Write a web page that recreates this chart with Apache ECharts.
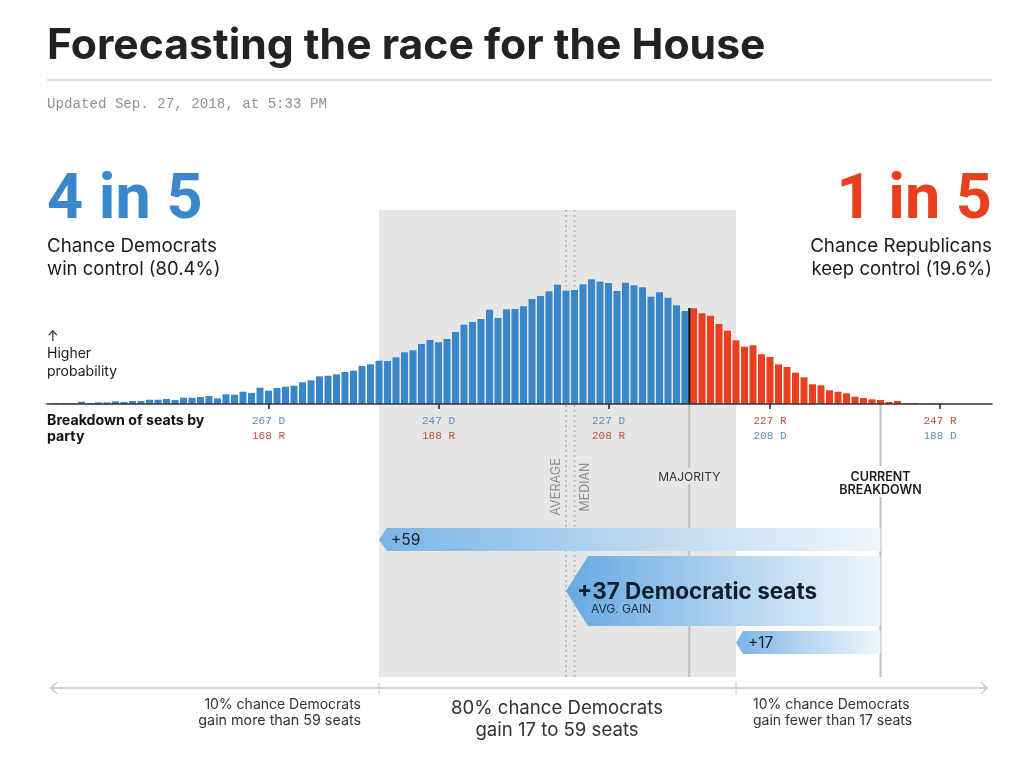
<!DOCTYPE html>
<html><head><meta charset="utf-8">
<script src="https://cdn.jsdelivr.net/npm/echarts@6/dist/echarts.min.js"></script>
<style>html,body{margin:0;padding:0;background:#fff}#c{width:1024px;height:777px}</style></head>
<body><div id="c"></div>
<script>
// Democratic seats for each bar, high to low
const firstSeat = 293;
// Relative probability of each seat outcome (bar height), from 293 D down to 188 D
const probability = [
 0.3,0.7,0.7,0.7,2.3,1,1.7,1.7,2.7,2,3,3,4.3,4.3,5,4,6.3,6.3,7,8,5.7,9.7,9.3,12.3,11,16.3,
 13.3,16,17.3,18.3,21.7,23.7,27.7,28.3,29.7,32,33.3,38,39.7,43.3,43,46.7,51.7,53.7,60,64,
 61.7,65,72,79.3,82,85,94.3,86,94.7,95,97.7,105,108,112.7,119.3,113.3,114,119.7,124.7,122.3,
 121,113,121.3,118.7,116.7,107.3,111.7,106.3,98.7,93,
 95.7,90.7,88.3,80,73.3,63.7,57.3,58.7,49.7,47,39.7,37,31.3,26.7,19.7,18.7,13.7,12.3,10.7,7.3,
 6,4.7,4,2,3,0.7,1,0.3,0.7,0.3
];
const seats = probability.map((_, i) => firstSeat - i);
const majoritySeats = 218;
const currentSeats = 195;
const totalSeats = 435;
const averageGain = 37, medianGain = 36, lowGain = 17, highGain = 59;
const tickSeats = [267, 247, 227, 208, 188];
const gains = [highGain, averageGain, lowGain];

const BLUE = '#3a86cb', RED = '#e8401f';
const F = 'Inter, "Liberation Sans", sans-serif';
const MONO = '"Liberation Mono", monospace';

const chart = echarts.init(document.getElementById('c'));

function txt(text, x, y, size, extra) {
  return { type: 'text', silent: true, z: 20, style: Object.assign({
    text, x, y: y + 1, fontSize: size, fontFamily: F, fill: '#1c1c1c',
    align: 'left', verticalAlign: 'middle'
  }, extra || {}) };
}
function vline(api, seat, y1, y2, style) {
  const x = api.coord([seat, 0])[0];
  return { type: 'line', shape: { x1: x, y1, x2: x, y2 }, style };
}
function label(text, x, y, size, extra, rotation) {
  return { type: 'text', x, y, rotation: rotation || 0, style: Object.assign({
    text, x: 0, y: 0, fontSize: size, fontFamily: F, fill: '#8e8e8e',
    align: 'center', verticalAlign: 'middle'
  }, extra || {}) };
}

const backdrop = {
  type: 'custom', coordinateSystem: 'cartesian2d', z: 1, silent: true, clip: false,
  data: [[currentSeats + highGain, currentSeats + lowGain]],
  renderItem(p, api) {
    const x1 = api.coord([currentSeats + highGain, 0])[0];
    const x2 = api.coord([currentSeats + lowGain, 0])[0];
    const dot = { stroke: '#bdbdbd', lineWidth: 2, lineDash: [2, 3] };
    const grey = { stroke: '#bcbcbc', lineWidth: 2 };
    const xa = api.coord([currentSeats + averageGain, 0])[0];
    const xm = api.coord([currentSeats + medianGain, 0])[0];
    return { type: 'group', children: [
      { type: 'rect', shape: { x: x1, y: 210, width: x2 - x1, height: 467 }, style: { fill: '#e6e6e6' } },
      vline(api, currentSeats + averageGain, 210, 677, dot),
      vline(api, currentSeats + medianGain, 210, 677, dot),
      vline(api, majoritySeats - 0.5, 404, 468, grey),
      vline(api, majoritySeats - 0.5, 484, 677, grey),
      vline(api, currentSeats, 404, 466, grey),
      vline(api, currentSeats, 497, 677, grey),
      label('AVERAGE', xa - 10, 487, 12.6, {}, Math.PI / 2),
      label('MEDIAN', xm + 11, 487, 12.4, {}, Math.PI / 2),
      label('MAJORITY', api.coord([majoritySeats - 0.5, 0])[0], 477, 12, { fill: '#333' }),
      label('CURRENT\nBREAKDOWN', api.coord([currentSeats, 0])[0], 484, 12.5, { fill: '#1c1c1c', fontWeight: 600, lineHeight: 13 }),
      { type: 'line', shape: { x1: x1, y1: 683, x2: x1, y2: 695 }, style: { stroke: '#c8c8c8', lineWidth: 1 } },
      { type: 'line', shape: { x1: x2, y1: 683, x2: x2, y2: 695 }, style: { stroke: '#c8c8c8', lineWidth: 1 } }
    ] };
  }
};

const majorityMark = {
  type: 'custom', coordinateSystem: 'cartesian2d', z: 4, silent: true, clip: false,
  data: [[majoritySeats - 0.5]],
  renderItem(p, api) {
    return vline(api, majoritySeats - 0.5, 308, 404, { stroke: '#111', lineWidth: 2 });
  }
};

const rows = { [highGain]: [528, 551, 8], [averageGain]: [556, 626, 22], [lowGain]: [631, 654, 7] };
const arrows = {
  type: 'custom', coordinateSystem: 'cartesian2d', z: 6, silent: true, clip: false,
  data: gains.map(g => [currentSeats + g, g]),
  renderItem(p, api) {
    const gain = api.value(1);
    const [y1, y2, nose] = rows[gain];
    const xL = api.coord([currentSeats + gain, 0])[0];
    const xR = api.coord([currentSeats, 0])[0];
    const ym = (y1 + y2) / 2;
    const big = gain === averageGain;
    const children = [{
      type: 'polygon',
      shape: { points: [[xL, ym], [xL + nose, y1], [xR, y1], [xR, y2], [xL + nose, y2]] },
      style: { fill: new echarts.graphic.LinearGradient(0, 0, 1, 0, [
        { offset: 0, color: big ? '#66a9e2' : '#7ab4e6' },
        { offset: 0.5, color: big ? '#addfff' && '#aed0ee' : '#b9d7f1' },
        { offset: 1, color: '#eff6fc' }
      ]) }
    }];
    if (big) {
      children.push(label('+' + gain + ' Democratic seats', xL + 11, 592, 22.5, { align: 'left', fill: '#12202e', fontWeight: 700 }));
      children.push(label('AVG. GAIN', xL + 25, 609, 12, { align: 'left', fill: '#1f2d3a' }));
    } else {
      children.push(label('+' + gain, xL + 12, ym + 1, 15.5, { align: 'left', fill: '#12202e' }));
    }
    return { type: 'group', children };
  }
};

chart.setOption({
  animation: false,
  backgroundColor: '#fff',
  grid: { left: 47, right: 32, top: 254, bottom: 373 },
  xAxis: {
    type: 'value', inverse: true,
    max: 227 + (608.5 - 47) / 8.5, min: 227 - (992 - 608.5) / 8.5,
    splitLine: { show: false }, z: 5,
    axisLine: { show: true, lineStyle: { color: '#333', width: 1.5 } },
    axisTick: { show: true, length: 5, customValues: tickSeats, lineStyle: { color: '#222', width: 1.5 } },
    axisLabel: {
      show: true, customValues: tickSeats, margin: 10, hideOverlap: false,
      formatter(v) {
        const d = Math.round(v), r = totalSeats - d;
        return d >= majoritySeats ? `{d|${d} D}\n{r|${r} R}` : `{r|${r} R}\n{d|${d} D}`;
      },
      rich: {
        d: { fontFamily: MONO, fontSize: 11, color: '#5b8db8', lineHeight: 15 },
        r: { fontFamily: MONO, fontSize: 11, color: '#c1503c', lineHeight: 15 }
      }
    }
  },
  yAxis: { type: 'value', min: 0, max: 150, show: false },
  series: [
    backdrop,
    {
      type: 'bar', z: 2, barWidth: 7, silent: true,
      data: seats.map((s, i) => ({
        value: [s, probability[i]],
        itemStyle: { color: s >= majoritySeats ? BLUE : RED }
      }))
    },
    majorityMark,
    arrows
  ],
  graphic: [
    txt('Forecasting the race for the House', 47, 45, 42.7, { fontWeight: 700, fill: '#222' }),
    { type: 'line', shape: { x1: 47, y1: 80, x2: 992, y2: 80 }, style: { stroke: '#d0d0d0', lineWidth: 1.5 } },
    txt('Updated Sep. 27, 2018, at 5:33 PM', 47, 103, 14.15, { fontFamily: MONO, fill: '#8f8f8f' }),
    txt('4 in 5', 47, 201.5, 63, { fontWeight: 700, fontFamily: 'Roboto', fill: '#3a87c9' }),
    txt('1 in 5', 992, 201.5, 63, { fontWeight: 700, fontFamily: 'Roboto', fill: RED, align: 'right' }),
    txt('Chance Democrats', 47, 245, 18.8),
    txt('win control (80.4%)', 47, 268, 18.5),
    txt('Chance Republicans', 992, 245, 18.8, { align: 'right' }),
    txt('keep control (19.6%)', 992, 268, 18.5, { align: 'right' }),
    txt('↑', 47, 336, 14),
    txt('Higher', 47, 353, 14),
    txt('probability', 47, 371, 14),
    txt('Breakdown of seats by', 47, 420, 14.2, { fontWeight: 700, fill: '#111' }),
    txt('party', 47, 436, 14.2, { fontWeight: 700, fill: '#111' }),
    { type: 'line', shape: { x1: 51, y1: 688, x2: 987, y2: 688 }, style: { stroke: '#d2d2d2', lineWidth: 2 } },
    { type: 'polyline', shape: { points: [[57, 682], [51, 688], [57, 694]] }, style: { stroke: '#c8c8c8', fill: 'none', lineWidth: 1.5 } },
    { type: 'polyline', shape: { points: [[981, 682], [987, 688], [981, 694]] }, style: { stroke: '#c8c8c8', fill: 'none', lineWidth: 1.5 } },
    txt('10% chance Democrats', 361, 704, 14, { align: 'right', fill: '#333' }),
    txt('gain more than 59 seats', 361, 719.5, 14.3, { align: 'right', fill: '#333' }),
    txt('80% chance Democrats', 557, 707, 18.6, { align: 'center', fill: '#333' }),
    txt('gain 17 to 59 seats', 557, 729, 18.6, { align: 'center', fill: '#333' }),
    txt('10% chance Democrats', 753, 704, 14, { fill: '#333' }),
    txt('gain fewer than 17 seats', 753, 719.5, 14, { fill: '#333' })
  ]
});
</script></body></html>
